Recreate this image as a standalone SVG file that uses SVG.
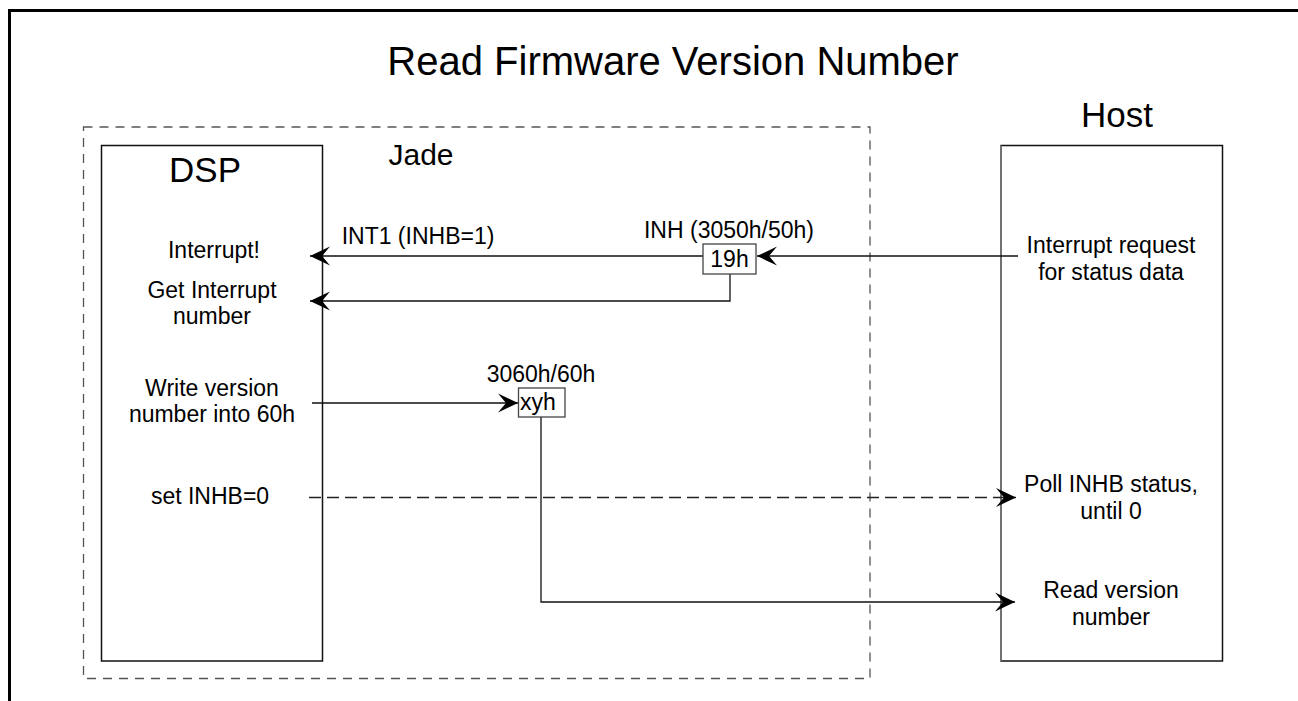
<svg xmlns="http://www.w3.org/2000/svg" width="1298" height="701" viewBox="0 0 1298 701">
<style>
text{font-family:"Liberation Sans",Arial,sans-serif;fill:#000}
.t{font-size:23px;text-anchor:middle}
.big{font-size:35px;text-anchor:middle}
.box{fill:#fff;stroke:#111;stroke-width:1.5}
.reg{fill:#fff;stroke:#444;stroke-width:1.3}
.ln{fill:none;stroke:#111;stroke-width:1.3}
.dash{fill:none;stroke:#222;stroke-width:1.5;stroke-dasharray:12 6}
</style>
<defs>
<marker id="ah" markerUnits="userSpaceOnUse" viewBox="-22 -11 24 22" refX="0" refY="0" markerWidth="24" markerHeight="22" orient="auto">
<path d="M0,0 L-20,-9.5 L-12,0 L-20,9.5 Z" fill="#000"/>
</marker>
</defs>
<rect width="1298" height="701" fill="#fff"/>
<g id="frame">
<path d="M9.5,701 V10.5 H1298" fill="none" stroke="#000" stroke-width="3"/>
</g>
<text id="title" x="673" y="75" font-size="40" text-anchor="middle">Read Firmware Version Number</text>
<g id="jade">
<rect x="83.5" y="127" width="786.5" height="551.5" fill="none" stroke="#555" stroke-width="1.3" stroke-dasharray="9 7"/>
<text x="421" y="165" font-size="30" text-anchor="middle">Jade</text>
</g>
<g id="dsp">
<rect class="box" x="101.5" y="145.5" width="221" height="515.5"/>
<text class="big" x="205" y="182">DSP</text>
<text class="t" x="214" y="258">Interrupt!</text>
<text class="t" x="212" y="298">Get Interrupt</text>
<text class="t" x="212" y="324">number</text>
<text class="t" x="212" y="396">Write version</text>
<text class="t" x="212" y="422">number into 60h</text>
<text class="t" x="210" y="504">set INHB=0</text>
</g>
<g id="host">
<text class="big" x="1117" y="127">Host</text>
<rect class="box" x="1001" y="145.5" width="221.5" height="515.5"/>
<path d="M1001,145.5 V661" stroke="#777" stroke-width="1.8"/>
<text class="t" x="1111" y="253">Interrupt request</text>
<text class="t" x="1111" y="280">for status data</text>
<text class="t" x="1111" y="492">Poll INHB status,</text>
<text class="t" x="1111" y="519">until 0</text>
<text class="t" x="1111" y="598">Read version</text>
<text class="t" x="1111" y="625">number</text>
</g>
<g id="connectors">
<path class="ln" d="M1018,256 H757" marker-end="url(#ah)"/>
<path class="ln" d="M703,256 H310" marker-end="url(#ah)"/>
<path class="ln" d="M730,274 V301 H310" marker-end="url(#ah)"/>
<path class="ln" d="M312,403 H518" marker-end="url(#ah)"/>
<path class="dash" d="M309,497.5 H1016" marker-end="url(#ah)"/>
<path class="ln" d="M541,417 V602 H1015" marker-end="url(#ah)"/>
<text class="t" x="418" y="244">INT1 (INHB=1)</text>
</g>
<g id="reg19">
<text class="t" x="729" y="238">INH (3050h/50h)</text>
<rect class="reg" x="703" y="244" width="53" height="30"/>
<text class="t" x="729.5" y="267">19h</text>
</g>
<g id="regxy">
<text class="t" x="541" y="382">3060h/60h</text>
<rect class="reg" x="518.5" y="388" width="46.5" height="29"/>
<text x="520" y="410" font-size="23">xyh</text>
</g>
</svg>
